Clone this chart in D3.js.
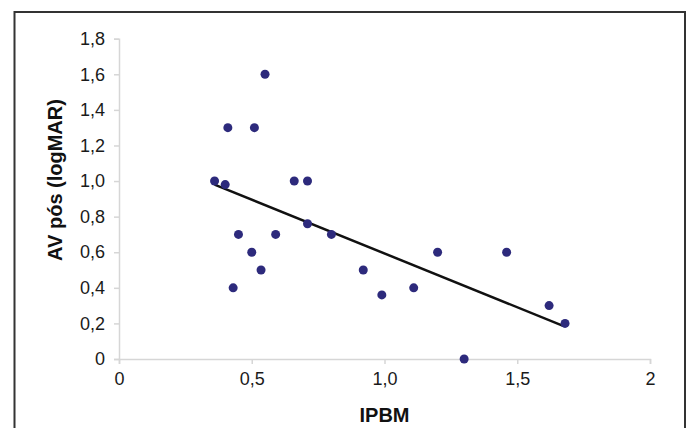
<!DOCTYPE html>
<html>
<head>
<meta charset="utf-8">
<script src="https://cdn.jsdelivr.net/npm/d3@7"></script>
<style>
  html, body { margin: 0; padding: 0; background: #fff; }
  svg { display: block; }
</style>
</head>
<body>
<div id="chart"></div>
<script>
// ── Data ─────────────────────────────────────────────────────────
const ipbm = [0.36, 0.40, 0.41, 0.51, 0.55, 0.66, 0.71, 0.71, 0.45, 0.59, 0.80, 0.50, 0.535, 0.43,
              0.92, 0.99, 1.11, 1.20, 1.46, 1.62, 1.68, 1.30];
const avPos = [1.0, 0.98, 1.3, 1.3, 1.6, 1.0, 1.0, 0.76, 0.7, 0.7, 0.7, 0.6, 0.5, 0.4,
               0.5, 0.36, 0.4, 0.6, 0.6, 0.3, 0.2, 0.0];
// trend line end points (as drawn in the figure)
const trendX = [0.36, 1.675];
const trendY = [0.98, 0.185];

const xTicks = [0, 0.5, 1.0, 1.5, 2];
const xTickLabels = ['0', '0,5', '1,0', '1,5', '2'];
const yTicks = [0, 0.2, 0.4, 0.6, 0.8, 1.0, 1.2, 1.4, 1.6, 1.8];
const yTickLabels = ['0', '0,2', '0,4', '0,6', '0,8', '1,0', '1,2', '1,4', '1,6', '1,8'];

// ── Layout ───────────────────────────────────────────────────────
const W = 690, H = 428;
const svg = d3.select('#chart').append('svg').attr('width', W).attr('height', H);

// outer frame (open at the bottom)
svg.append('path')
  .attr('d', 'M14.5,432 V12 H685 V432')
  .attr('fill', 'none')
  .attr('stroke', '#333')
  .attr('stroke-width', 2);

const x = d3.scaleLinear().domain([0, 2]).range([119, 650]);
const y = d3.scaleLinear().domain([0, 1.8]).range([359, 38.7]);

const font = '"Liberation Sans", Arial, sans-serif';
const axisColor = '#d6d6d6';

// x axis
const xAxis = svg.append('g').attr('transform', `translate(0,${y(0)})`)
  .call(d3.axisBottom(x).tickValues(xTicks).tickFormat((d, i) => xTickLabels[i]).tickSize(5).tickPadding(8));
// y axis
const yAxis = svg.append('g').attr('transform', `translate(${x(0)},0)`)
  .call(d3.axisLeft(y).tickValues(yTicks).tickFormat((d, i) => yTickLabels[i]).tickSize(5).tickPadding(9));

[xAxis, yAxis].forEach(a => {
  a.select('.domain').attr('stroke', axisColor).attr('stroke-width', 1.5);
  a.selectAll('.tick line').attr('stroke', axisColor).attr('stroke-width', 1.5);
  a.selectAll('.tick text')
    .attr('fill', '#1a1a1a')
    .style('font-family', font)
    .style('font-size', '18px');
});

// axis titles
svg.append('text')
  .attr('x', (x(0) + x(2)) / 2)
  .attr('y', 422)
  .attr('text-anchor', 'middle')
  .style('font-family', font)
  .style('font-size', '20px')
  .style('font-weight', 'bold')
  .attr('fill', '#111')
  .text('IPBM');

svg.append('text')
  .attr('transform', 'translate(62,180) rotate(-90)')
  .attr('text-anchor', 'middle')
  .style('font-family', font)
  .style('font-size', '20px')
  .style('font-weight', 'bold')
  .attr('fill', '#111')
  .text('AV pós (logMAR)');

// trend line
svg.append('line')
  .attr('x1', x(trendX[0])).attr('y1', y(trendY[0]))
  .attr('x2', x(trendX[1])).attr('y2', y(trendY[1]))
  .attr('stroke', '#111')
  .attr('stroke-width', 2.5);

// points
svg.selectAll('.pt')
  .data(ipbm.map((v, i) => [v, avPos[i]]))
  .enter()
  .append('circle')
  .attr('class', 'pt')
  .attr('cx', d => x(d[0]))
  .attr('cy', d => y(d[1]))
  .attr('r', 4.5)
  .attr('fill', '#2d2a7c');
</script>
</body>
</html>
